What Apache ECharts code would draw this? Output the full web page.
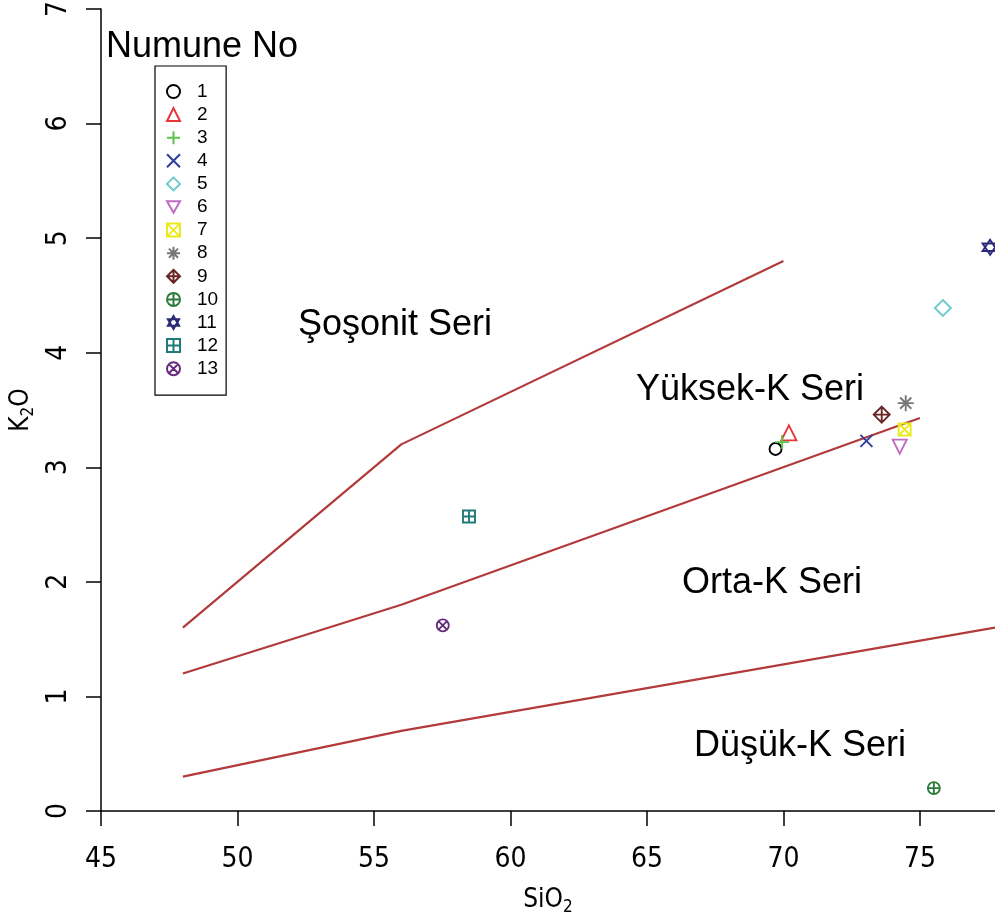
<!DOCTYPE html>
<html>
<head>
<meta charset="utf-8">
<script src="https://cdn.jsdelivr.net/npm/echarts@6/dist/echarts.min.js"></script>
<style>
html,body{margin:0;padding:0;background:#fff;}
#chart{width:995px;height:918px;}
</style>
</head>
<body>
<div id="chart"></div>
<script>
// ---- data ----
const sampleNames = ['1','2','3','4','5','6','7','8','9','10','11','12','13'];
const sio2 = [69.71, 70.2, 69.95, 73.04, 75.84, 74.26, 74.44, 74.48, 73.60, 75.51, 77.57, 58.48, 57.52];
const k2o  = [3.16, 3.30, 3.22, 3.23, 4.39, 3.18, 3.33, 3.56, 3.46, 0.20, 4.92, 2.57, 1.62];
const xTicks = [45, 50, 55, 60, 65, 70, 75];
const yTicks = [0, 1, 2, 3, 4, 5, 6, 7];
const shoshoniteBoundary = [[48, 1.6], [56, 3.2], [70, 4.8]];
const highKBoundary = [[48, 1.2], [56, 1.8], [75, 3.43]];
const lowKBoundary = [[48, 0.3], [56, 0.7], [77.75, 1.6]];
const zoneLabels = ['Şoşonit Seri', 'Yüksek-K Seri', 'Orta-K Seri', 'Düşük-K Seri'];

// ---- styles ----
const colors = ['#000000', '#E8353C', '#5CC24A', '#2E3E9E', '#6FCACA', '#C06EC3', '#EAEA1E', '#777777', '#6A2626', '#2C7A3C', '#2C2A78', '#1E7B79', '#682C7E'];
const symbols = [
  'circle',
  'triangle',
  'path://M5,0L5,10M0,5L10,5',
  'path://M0,0L10,10M10,0L0,10',
  'diamond',
  'path://M0,0L10,0L5,8.66Z',
  'path://M0,0L10,0L10,10L0,10ZM0,0L10,10M10,0L0,10',
  'path://M5,0L5,10M0,5L10,5M1.5,1.5L8.5,8.5M8.5,1.5L1.5,8.5',
  'path://M5,0L10,5L5,10L0,5ZM5,0L5,10M0,5L10,5',
  'path://M0,5A5,5,0,1,0,10,5A5,5,0,1,0,0,5ZM5,0L5,10M0,5L10,5',
  'path://M5,0L9.33,7.5L0.67,7.5ZM5,10L0.67,2.5L9.33,2.5Z',
  'path://M0,0L10,0L10,10L0,10ZM5,0L5,10M0,5L10,5',
  'path://M0,5A5,5,0,1,0,10,5A5,5,0,1,0,0,5ZM1.46,1.46L8.54,8.54M8.54,1.46L1.46,8.54'
];
const sizes = [12, 15, 14, 12, 16, 14, 12, 16, 16, 12, 15, 12, 12];
const lineColor = '#B23A3A';
const narrow = '"Liberation Sans Narrow", "DejaVu Sans Condensed", "Liberation Sans", sans-serif';
const bigFont = '36px "Liberation Sans", Arial, sans-serif';

const chart = echarts.init(document.getElementById('chart'), null, {renderer: 'canvas'});

const series = [];
[shoshoniteBoundary, highKBoundary, lowKBoundary].forEach(function (d) {
  series.push({
    type: 'line', data: d, symbol: 'none', silent: true,
    lineStyle: {color: lineColor, width: 2.2}, z: 1
  });
});
sampleNames.forEach(function (n, i) {
  series.push({
    name: n, type: 'scatter',
    data: [[sio2[i], k2o[i]]],
    symbol: symbols[i], symbolSize: sizes[i],
    itemStyle: {color: 'rgba(0,0,0,0)', borderColor: colors[i], borderWidth: 1.9, opacity: 1},
    emphasis: {disabled: true}, z: 3
  });
});

const option = {
  animation: false,
  backgroundColor: '#ffffff',
  grid: {left: 101, right: 0, top: 9, bottom: 107, containLabel: false, outerBoundsMode: 'none'},
  xAxis: {
    type: 'value', min: 45, max: 77.75, interval: 5,
    name: 'SiO{s|2}', nameLocation: 'middle', nameGap: 74,
    nameTextStyle: {fontFamily: narrow, fontSize: 26, color: '#000',
      rich: {s: {fontFamily: narrow, fontSize: 17, color: '#000', padding: [14, 0, 0, 0]}}},
    axisLine: {show: true, onZero: false, lineStyle: {color: '#000', width: 1.5}},
    axisTick: {show: true, length: 15, inside: false, customValues: xTicks, lineStyle: {color: '#000', width: 1.5}},
    axisLabel: {customValues: xTicks, margin: 35, fontFamily: narrow, fontSize: 28, color: '#000'},
    splitLine: {show: false}
  },
  yAxis: {
    type: 'value', min: 0, max: 7, interval: 1,
    name: 'K{s|2}O', nameLocation: 'middle', nameGap: 61,
    nameTextStyle: {fontFamily: narrow, fontSize: 26, color: '#000',
      rich: {s: {fontFamily: narrow, fontSize: 17, color: '#000', padding: [14, 0, 0, 0]}}},
    axisLine: {show: true, onZero: false, lineStyle: {color: '#000', width: 1.5}},
    axisTick: {show: true, length: 15, customValues: yTicks, lineStyle: {color: '#000', width: 1.5}},
    axisLabel: {customValues: yTicks, rotate: 90, margin: 28, fontFamily: narrow, fontSize: 28, color: '#000'},
    splitLine: {show: false}
  },
  legend: {
    orient: 'vertical', left: 155, top: 66,
    data: sampleNames,
    itemWidth: 13, itemHeight: 13, itemGap: 4.1,
    padding: [16, 8, 17, 11],
    borderColor: '#000', borderWidth: 1.2,
    selectedMode: false,
    textStyle: {fontFamily: '"Liberation Sans", Arial, sans-serif', fontSize: 19, color: '#000', padding: [0, 0, 0, 12]}
  },
  graphic: [
    {type: 'text', left: 106, top: 29, style: {text: 'Numune No', font: bigFont, fill: '#000'}},
    {type: 'text', x: 395, y: 325, style: {text: zoneLabels[0], font: bigFont, fill: '#000', align: 'center', verticalAlign: 'middle'}},
    {type: 'text', x: 750, y: 390, style: {text: zoneLabels[1], font: bigFont, fill: '#000', align: 'center', verticalAlign: 'middle'}},
    {type: 'text', x: 772, y: 583, style: {text: zoneLabels[2], font: bigFont, fill: '#000', align: 'center', verticalAlign: 'middle'}},
    {type: 'text', x: 800, y: 746, style: {text: zoneLabels[3], font: bigFont, fill: '#000', align: 'center', verticalAlign: 'middle'}}
  ],
  series: series
};
chart.setOption(option);
</script>
</body>
</html>
